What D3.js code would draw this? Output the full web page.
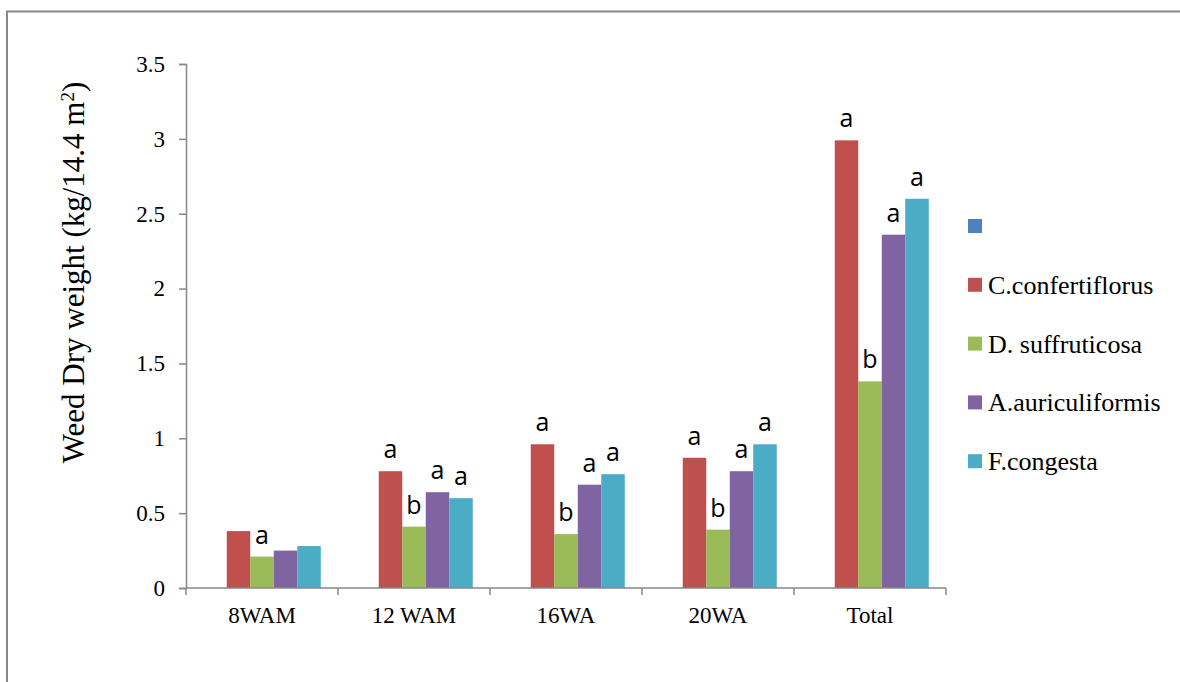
<!DOCTYPE html>
<html>
<head>
<meta charset="utf-8">
<script src="https://cdn.jsdelivr.net/npm/d3@7"></script>
<style>
  body { margin: 0; background: #fff; }
  svg { display: block; }
</style>
</head>
<body>
<div id="chart"></div>
<script>
    // Chart data
    const categories = ["8WAM", "12 WAM", "16WA", "20WA", "Total"];
    const seriesNames = ["", "C.confertiflorus", "D. suffruticosa", "A.auriculiformis", "F.congesta"];
    const seriesColors = ["#4F81BD", "#C0504D", "#9BBB59", "#8064A2", "#4BACC6"];

    const blankValues = [0, 0, 0, 0, 0];
    const confertiflorusValues = [0.38, 0.78, 0.96, 0.87, 2.99];
    const suffruticosaValues = [0.21, 0.41, 0.36, 0.39, 1.38];
    const auriculiformisValues = [0.25, 0.64, 0.69, 0.78, 2.36];
    const congestaValues = [0.28, 0.60, 0.76, 0.96, 2.60];

    // Significance letters (empty string = no letter)
    const blankLetters = ["", "", "", "", ""];
    const confertiflorusLetters = ["", "a", "a", "a", "a"];
    const suffruticosaLetters = ["a", "b", "b", "b", "b"];
    const auriculiformisLetters = ["", "a", "a", "a", "a"];
    const congestaLetters = ["", "a", "a", "a", "a"];

    const yTicks = [0, 0.5, 1, 1.5, 2, 2.5, 3, 3.5];

    const allValues = [blankValues, confertiflorusValues, suffruticosaValues, auriculiformisValues, congestaValues];
    const allLetters = [blankLetters, confertiflorusLetters, suffruticosaLetters, auriculiformisLetters, congestaLetters];

    const W = 1180, H = 682;
    const plot = { left: 186, right: 946, top: 64, bottom: 588 };
    const serif = "Liberation Serif, Times New Roman, serif";
    const sans = "Open Sans, Noto Sans, sans-serif";
    const axisColor = "#878787";

    const svg = d3.select("#chart")
        .append("svg")
        .attr("width", W)
        .attr("height", H);

    // Outer frame (only left and top edges are visible)
    svg.append("path")
        .attr("d", `M7,${H} L7,11.5 L${W},11.5`)
        .attr("fill", "none")
        .attr("stroke", axisColor)
        .attr("stroke-width", 2);

    // Scales
    const x = d3.scaleBand()
        .domain(categories)
        .range([plot.left, plot.right])
        .paddingInner(0)
        .paddingOuter(0);

    const xSub = d3.scaleBand()
        .domain(d3.range(seriesNames.length))
        .range([0, x.bandwidth()])
        .paddingInner(0)
        .paddingOuter(0.734);

    const y = d3.scaleLinear()
        .domain([0, 3.5])
        .range([plot.bottom, plot.top]);

    // Flatten to bar records
    const bars = [];
    allValues.forEach((vals, s) => {
        vals.forEach((v, c) => {
            bars.push({ s, cat: categories[c], value: v, letter: allLetters[s][c] });
        });
    });

    // Bars
    svg.append("g")
        .selectAll("rect")
        .data(bars.filter(d => d.value > 0))
        .enter().append("rect")
        .attr("x", d => x(d.cat) + xSub(d.s))
        .attr("y", d => y(d.value))
        .attr("width", xSub.bandwidth())
        .attr("height", d => y(0) - y(d.value))
        .attr("fill", d => seriesColors[d.s]);

    // Y axis
    const yAxis = svg.append("g")
        .attr("transform", `translate(${plot.left},0)`)
        .call(d3.axisLeft(y).tickValues(yTicks).tickSize(7).tickPadding(14).tickFormat(d3.format("")));
    yAxis.attr("font-family", serif).attr("font-size", 23);
    yAxis.select(".domain").attr("stroke", axisColor).attr("stroke-width", 1.5);
    yAxis.selectAll(".tick line").attr("stroke", axisColor).attr("stroke-width", 1.5);
    yAxis.selectAll("text").attr("fill", "#000");

    // X axis: ticks at band boundaries, labels at band centres
    const xAxisG = svg.append("g")
        .attr("transform", `translate(0,${plot.bottom})`);
    xAxisG.append("line")
        .attr("x1", plot.left)
        .attr("x2", plot.right)
        .attr("stroke", axisColor)
        .attr("stroke-width", 1.5);
    const boundaries = categories.map(c => x(c)).concat([x(categories[categories.length - 1]) + x.bandwidth()]);
    xAxisG.selectAll(".bt")
        .data(boundaries)
        .enter().append("line")
        .attr("x1", d => d)
        .attr("x2", d => d)
        .attr("y1", 0)
        .attr("y2", 7)
        .attr("stroke", axisColor)
        .attr("stroke-width", 1.5);
    xAxisG.selectAll(".cl")
        .data(categories)
        .enter().append("text")
        .attr("x", d => x(d) + x.bandwidth() / 2)
        .attr("y", 35)
        .attr("text-anchor", "middle")
        .attr("font-family", serif)
        .attr("font-size", 23)
        .text(d => d);

    // Significance letters
    svg.append("g")
        .selectAll("text")
        .data(bars.filter(d => d.letter !== ""))
        .enter().append("text")
        .attr("x", d => x(d.cat) + xSub(d.s) + xSub.bandwidth() / 2)
        .attr("y", d => y(d.value) - 13)
        .attr("text-anchor", "middle")
        .attr("font-family", sans)
        .attr("font-size", 25)
        .text(d => d.letter);

    // Y axis title
    const yTitle = svg.append("text")
        .attr("transform", `translate(84,${(90 + 455) / 2}) rotate(-90)`)
        .attr("text-anchor", "middle")
        .attr("font-family", serif)
        .attr("font-size", 31);
    yTitle.append("tspan").text("Weed Dry weight (kg/14.4 m");
    yTitle.append("tspan").attr("baseline-shift", "super").attr("font-size", 19).text("2");
    yTitle.append("tspan").text(")");

    // Legend
    const legend = svg.append("g")
        .attr("transform", "translate(968,226)");
    const items = legend.selectAll("g")
        .data(seriesNames)
        .enter().append("g")
        .attr("transform", (d, i) => `translate(0,${i * 58.8})`);
    items.append("rect")
        .attr("x", 0)
        .attr("y", -7)
        .attr("width", 14)
        .attr("height", 14)
        .attr("fill", (d, i) => seriesColors[i]);
    items.append("text")
        .attr("x", 20)
        .attr("y", 9)
        .attr("font-family", serif)
        .attr("font-size", 26)
        .text(d => d);
</script>
</body>
</html>
